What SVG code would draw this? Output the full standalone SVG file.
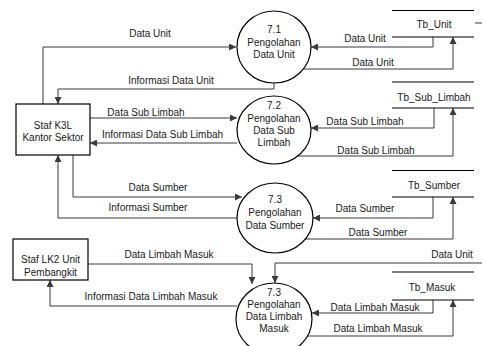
<svg xmlns="http://www.w3.org/2000/svg" width="482" height="346" viewBox="0 0 482 346">
<style>
text{font-family:"Liberation Sans",Arial,sans-serif;font-size:10px;fill:#1a1a1a;text-anchor:middle}
.node{fill:#fff;stroke:#000;stroke-width:1.2}
.store{stroke:#000;stroke-width:1.2;fill:none}
.flow{fill:none;stroke:#3a3a3a;stroke-width:1;marker-end:url(#arr)}
.plain{fill:none;stroke:#3a3a3a;stroke-width:1}
</style>
<defs>
<marker id="arr" markerUnits="userSpaceOnUse" markerWidth="8" markerHeight="7" refX="7" refY="3.5" orient="auto">
<path d="M0,0 L7,3.5 L0,7 z" fill="#3a3a3a"/>
</marker>
</defs>
<rect width="482" height="346" fill="#fff"/>
<g id="connectors">
<path class="flow" d="M43,104 V47 H236"/>
<path class="flow" d="M274,83 V89 H58 V104"/>
<path class="flow" d="M90,118 H237"/>
<path class="flow" d="M237,143 H90"/>
<path class="flow" d="M73,155 V197 H242"/>
<path class="flow" d="M237,218 H58 V155"/>
<path class="flow" d="M88,264 H252 V284"/>
<path class="flow" d="M237,306 H50 V280"/>
<path class="flow" d="M482,263 H275 V283"/>
<path class="flow" d="M433,37 V47 H311"/>
<path class="flow" d="M303,69 H453 V37"/>
<path class="flow" d="M434,108 V128 H311"/>
<path class="flow" d="M298,156 H453 V108"/>
<path class="flow" d="M433,197 V218 H313"/>
<path class="flow" d="M303,239 H453 V197"/>
<path class="flow" d="M433,300 V313 H312"/>
<path class="flow" d="M305,336 H453 V300"/>
<path class="plain" d="M475,23 H482"/>
</g>
<g id="staf-k3l">
<rect class="node" x="16" y="104" width="74" height="51"/>
<text x="53" y="128.5">Staf K3L</text>
<text x="53" y="141">Kantor Sektor</text>
</g>
<g id="staf-lk2">
<rect class="node" x="13" y="239" width="75" height="41"/>
<text x="50.5" y="262.5">Staf LK2 Unit</text>
<text x="50.5" y="275.5">Pembangkit</text>
</g>
<g id="p71">
<ellipse class="node" cx="274" cy="47" rx="37" ry="36"/>
<text x="274" y="32.5">7.1</text>
<text x="274" y="45.5">Pengolahan</text>
<text x="274" y="58">Data Unit</text>
</g>
<g id="p72">
<ellipse class="node" cx="274" cy="130" rx="37" ry="34"/>
<text x="274" y="108.5">7.2</text>
<text x="274" y="121.5">Pengolahan</text>
<text x="274" y="133.5">Data Sub</text>
<text x="274" y="145.5">Limbah</text>
</g>
<g id="p73-sumber">
<ellipse class="node" cx="275" cy="218" rx="38" ry="35"/>
<text x="275" y="202.5">7.3</text>
<text x="275" y="215.5">Pengolahan</text>
<text x="275" y="228.5">Data Sumber</text>
</g>
<g id="p73-limbah">
<ellipse class="node" cx="274" cy="319" rx="38" ry="36"/>
<text x="274" y="295.5">7.3</text>
<text x="274" y="307.5">Pengolahan</text>
<text x="274" y="319.5">Data Limbah</text>
<text x="274" y="331.5">Masuk</text>
</g>
<g id="tb-unit">
<path class="store" d="M392,10.5 H474 M392,37 H474"/>
<text x="434" y="27.5">Tb_Unit</text>
</g>
<g id="tb-sub-limbah">
<path class="store" d="M392,82 H474 M392,108 H474"/>
<text x="434" y="100.5">Tb_Sub_Limbah</text>
</g>
<g id="tb-sumber">
<path class="store" d="M392,170.5 H474 M392,197 H474"/>
<text x="434" y="188.5">Tb_Sumber</text>
</g>
<g id="tb-masuk">
<path class="store" d="M392,272 H474 M392,300 H474"/>
<text x="432" y="290.5">Tb_Masuk</text>
</g>
<g id="labels">
<text x="150" y="37">Data Unit</text>
<text x="171" y="84">Informasi Data Unit</text>
<text x="146" y="115.5">Data Sub Limbah</text>
<text x="162.5" y="137.5">Informasi Data Sub Limbah</text>
<text x="158" y="190.5">Data Sumber</text>
<text x="148" y="211">Informasi Sumber</text>
<text x="169" y="258">Data Limbah Masuk</text>
<text x="151" y="300">Informasi Data Limbah Masuk</text>
<text x="365" y="42">Data Unit</text>
<text x="373" y="66">Data Unit</text>
<text x="365" y="124.5">Data Sub Limbah</text>
<text x="376" y="153.5">Data Sub Limbah</text>
<text x="365" y="212">Data Sumber</text>
<text x="378" y="235.5">Data Sumber</text>
<text x="452" y="258">Data Unit</text>
<text x="375" y="310.5">Data Limbah Masuk</text>
<text x="378" y="331.5">Data Limbah Masuk</text>
</g>
</svg>
